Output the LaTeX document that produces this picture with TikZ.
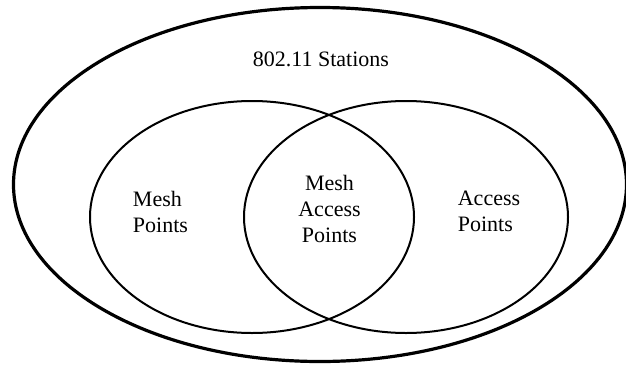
\documentclass[tikz,border=0pt]{standalone}
\usepackage{fontspec}
\setmainfont{Liberation Serif}
\usetikzlibrary{shapes.geometric}
\begin{document}
\begin{tikzpicture}[x=1pt,y=-1pt,
  outerset/.style={draw, ellipse, line width=3.2pt, inner sep=0pt, minimum width=613pt, minimum height=354pt},
  innerset/.style={draw, ellipse, line width=2pt, inner sep=0pt, minimum width=324pt, minimum height=232pt},
  lbl/.style={inner sep=0pt, font=\fontsize{22}{26}\selectfont}]
\useasboundingbox (0,0) rectangle (626,364);
\fill[white] (0,0) rectangle (626,364);
\node[outerset] (stations) at (320,184.5) {};
\node[innerset] (mesh) at (252,217) {};
\node[innerset] (access) at (406,217) {};
\node[lbl] (tstations) at (321,59.7) {802.11 Stations};
\node[lbl, align=left] (tmesh) at (160.5,211.5) {Mesh\\Points};
\node[lbl, align=center] (tmap) at (329.5,208.5) {Mesh\\Access\\Points};
\node[lbl, align=left] (tap) at (489,211.5) {Access\\Points};
\end{tikzpicture}
\end{document}
